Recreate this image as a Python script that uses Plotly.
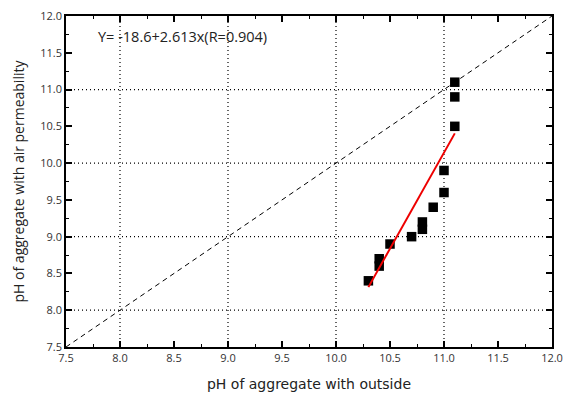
import plotly.graph_objects as go

# data
ph_outside = [11.1, 11.1, 11.1, 11.0, 11.0, 10.9, 10.8, 10.8, 10.7, 10.5, 10.4, 10.4, 10.3]
ph_air = [11.1, 10.9, 10.5, 9.9, 9.6, 9.4, 9.2, 9.1, 9.0, 8.9, 8.7, 8.6, 8.4]
fit_intercept = -18.6
fit_slope = 2.613
fit_r = 0.904
axis_range = [7.5, 12.0]
grid_values = [8, 9, 10, 11]

fit_x = [min(ph_outside), max(ph_outside)]
fit_y = [fit_intercept + fit_slope * v for v in fit_x]

fig = go.Figure()
fig.add_trace(go.Scatter(x=axis_range, y=axis_range, mode="lines",
                         line=dict(color="black", width=1, dash="5px,4px"), showlegend=False))
fig.add_trace(go.Scatter(x=ph_outside, y=ph_air, mode="markers",
                         marker=dict(symbol="square", size=9.5, color="black"), showlegend=False))
fig.add_trace(go.Scatter(x=fit_x, y=fit_y, mode="lines",
                         line=dict(color="#ee0000", width=2), showlegend=False))

shapes = []
for g in grid_values:
    shapes.append(dict(type="line", xref="x", yref="paper", x0=g, x1=g, y0=0, y1=1,
                       line=dict(color="black", width=1.2, dash="1px,3px"), layer="below"))
    shapes.append(dict(type="line", xref="paper", yref="y", x0=0, x1=1, y0=g, y1=g,
                       line=dict(color="black", width=1.2, dash="1px,3px"), layer="below"))

axis_common = dict(
    range=axis_range, dtick=0.5, tick0=7.5, tickformat=".1f",
    showgrid=False, zeroline=False, automargin=False,
    showline=True, linecolor="black", linewidth=1.5, mirror="allticks",
    ticks="inside", ticklen=6, tickwidth=1.5, tickcolor="black",
    tickfont=dict(size=11, color="#333333", family="Open Sans"),
    minor=dict(dtick=0.25, ticks="inside", ticklen=3, tickwidth=1, tickcolor="black", showgrid=False),
)

fig.update_layout(
    width=567, height=397,
    margin=dict(l=66, r=15, t=16, b=50, autoexpand=False),
    plot_bgcolor="white", paper_bgcolor="white",
    font=dict(family="Open Sans", color="#222222"),
    shapes=shapes,
    xaxis=dict(**axis_common, title=dict(text="pH of aggregate with outside",
                                          font=dict(size=14, color="#222222", family="DejaVu Sans"), standoff=15)),
    yaxis=dict(**axis_common, title=dict(text="pH of aggregate with air permeability",
                                          font=dict(size=14, color="#222222", family="Open Sans"), standoff=12)),
    annotations=[dict(x=0.062, y=0.937, xref="paper", yref="paper", xanchor="left", yanchor="middle",
                      text=f"Y= {fit_intercept}+{fit_slope}x(R={fit_r})", showarrow=False,
                      font=dict(size=14.5, color="#222222", family="Open Sans"))],
)

fig.write_html("out.html")
